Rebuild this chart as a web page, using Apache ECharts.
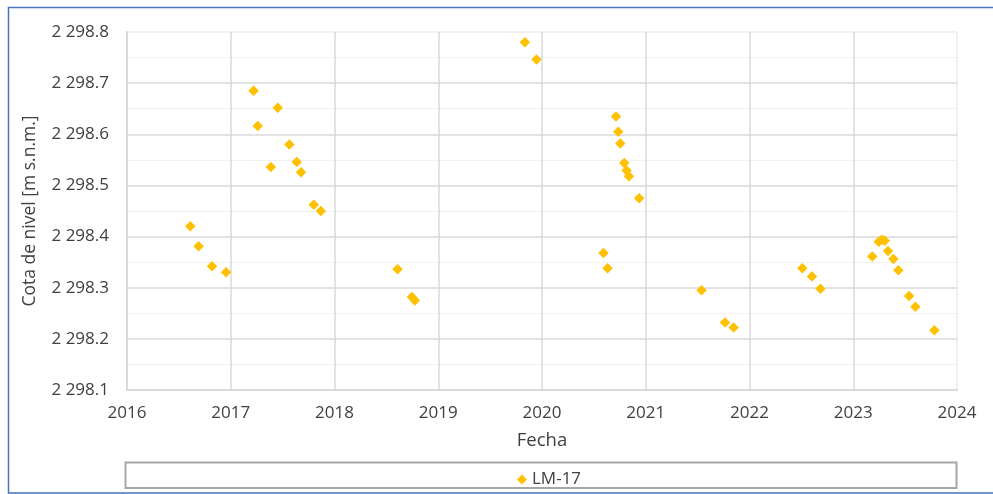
<!DOCTYPE html>
<html>
<head>
<meta charset="utf-8">
<script src="https://cdn.jsdelivr.net/npm/echarts@6/dist/echarts.min.js"></script>
<style>
html,body{margin:0;padding:0;background:#fff;}
#chart{width:993px;height:494px;}
</style>
</head>
<body>
<div id="chart"></div>
<script>
// Decimal-year dates of each measurement
var fechas = [
  2016.61, 2016.69, 2016.82, 2016.955,
  2017.22, 2017.26, 2017.386, 2017.453, 2017.565, 2017.636, 2017.678, 2017.80, 2017.868,
  2018.607, 2018.745, 2018.774,
  2019.835, 2019.947,
  2020.593, 2020.632, 2020.713, 2020.735, 2020.754, 2020.793, 2020.815, 2020.838, 2020.937,
  2021.538, 2021.764, 2021.847,
  2022.509, 2022.602, 2022.683,
  2023.184, 2023.245, 2023.275, 2023.304, 2023.335, 2023.387, 2023.435, 2023.538, 2023.599, 2023.782
];
// Water level values (m s.n.m.)
var cotas = [
  2298.420, 2298.381, 2298.342, 2298.330,
  2298.685, 2298.616, 2298.536, 2298.652, 2298.580, 2298.546, 2298.526, 2298.462, 2298.450,
  2298.336, 2298.282, 2298.275,
  2298.780, 2298.746,
  2298.368, 2298.338, 2298.635, 2298.605, 2298.582, 2298.544, 2298.529, 2298.518, 2298.475,
  2298.295, 2298.232, 2298.222,
  2298.338, 2298.322, 2298.298,
  2298.361, 2298.390, 2298.394, 2298.392, 2298.372, 2298.356, 2298.334, 2298.284, 2298.263, 2298.217
];
var serieNombre = 'LM-17';
var xTitulo = 'Fecha';
var yTitulo = 'Cota de nivel [m s.n.m.]';

var puntos = fechas.map(function(f, i){ return [f, cotas[i]]; });

function fmtY(v){
  var s = v.toFixed(1);
  var parts = s.split('.');
  var ent = parts[0].replace(/\B(?=(\d{3})+(?!\d))/g, ' ');
  return ent + '.' + parts[1];
}

var FONT = '"Open Sans", "Noto Sans", sans-serif';
var TXT = '#404040';

var chart = echarts.init(document.getElementById('chart'), null, {renderer:'canvas'});
chart.setOption({
  animation: false,
  backgroundColor: '#ffffff',
  textStyle: {fontFamily: FONT},
  grid: {left:127, right:36, top:32, bottom:104, show:true, borderColor:'#EDEDED', borderWidth:1.5, backgroundColor:'transparent'},
  xAxis: {
    type:'value', min:2016, max:2024, interval:1,
    name: xTitulo, nameLocation:'middle', nameGap:41,
    nameTextStyle:{fontSize:18.5, color:TXT, fontFamily:FONT},
    axisLine:{show:true, lineStyle:{color:'#D9D9D9', width:2}},
    axisTick:{show:false},
    axisLabel:{fontSize:17, color:TXT, margin:15, fontFamily:FONT, formatter:function(v){return String(v);}},
    splitLine:{show:true, showMaxLine:false, lineStyle:{color:'#D9D9D9', width:1.5}}
  },
  yAxis: {
    type:'value', min:2298.1, max:2298.8, interval:0.1,
    name: yTitulo, nameLocation:'middle', nameGap:88, nameRotate:90,
    nameTextStyle:{fontSize:17.5, color:TXT, fontFamily:FONT},
    axisLine:{show:true, lineStyle:{color:'#D9D9D9', width:2}},
    axisTick:{show:false},
    axisLabel:{fontSize:17, color:TXT, margin:18, fontFamily:FONT, formatter:fmtY},
    splitLine:{show:true, showMaxLine:false, lineStyle:{color:'#D9D9D9', width:1.5}},
    minorTick:{show:false, splitNumber:2},
    minorSplitLine:{show:true, lineStyle:{color:'#F0F0F0', width:1}}
  },
  legend: {
    data:[serieNombre], left:512, top:466,
    itemWidth:10, itemHeight:10, icon:'diamond',
    itemStyle:{color:'#FFC000', opacity:1},
    textStyle:{fontSize:17, color:TXT, fontFamily:FONT}
  },
  graphic: [
    {type:'rect', silent:true, z:-1, shape:{x:8.5, y:7.5, width:990, height:485.5}, style:{fill:null, stroke:'#4472C4', lineWidth:1.5}},
    {type:'rect', silent:true, z:-1, shape:{x:125.5, y:462.5, width:831, height:25.5}, style:{fill:null, stroke:'#A6A6A6', lineWidth:2}}
  ],
  series: [{
    name: serieNombre, type:'scatter', symbol:'diamond', symbolSize:10.5,
    itemStyle:{color:'#FFC000', opacity:1},
    data: puntos
  }]
});
</script>
</body>
</html>
